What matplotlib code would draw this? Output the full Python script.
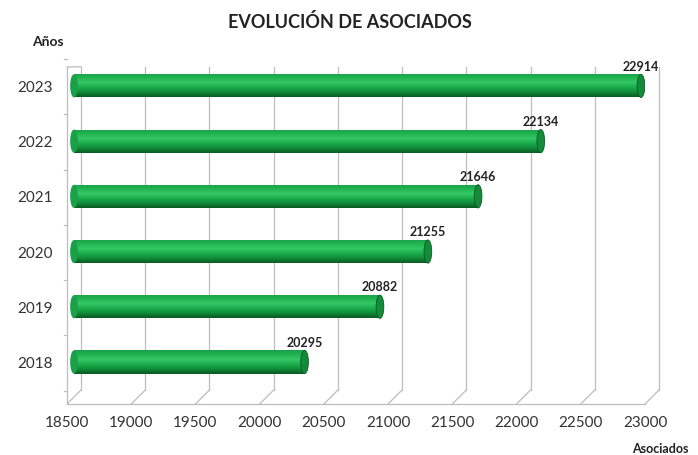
import matplotlib
matplotlib.use("Agg")
import matplotlib.pyplot as plt
import numpy as np
from matplotlib.colors import LinearSegmentedColormap
from matplotlib.patches import Ellipse
import matplotlib.transforms as mtransforms

years = ["2018", "2019", "2020", "2021", "2022", "2023"]
asociados = [20295, 20882, 21255, 21646, 22134, 22914]
xticks = [18500, 19000, 19500, 20000, 20500, 21000, 21500, 22000, 22500, 23000]
title = "EVOLUCIÓN DE ASOCIADOS"

plt.rcParams['font.family'] = ['Lato', 'DejaVu Sans']

fig = plt.figure(figsize=(6.98, 4.56), dpi=100)
ax = fig.add_axes([67/698, 1-405/456, 578/698, (405-68)/456])
x0, x1 = 18500, 23000
ylo, yhi = -0.743, 5.36
ax.set_xlim(x0, x1)
ax.set_ylim(ylo, yhi)
for s in ax.spines.values():
    s.set_visible(False)
ax.set_xticks([])
ax.set_yticks([])

grid_c = "#bdbdbd"
back = mtransforms.offset_copy(ax.transData, fig=fig, x=14, y=14, units='dots')
mid = mtransforms.offset_copy(ax.transData, fig=fig, x=7, y=1, units='dots')
# back wall gridlines
for xv in xticks:
    ax.plot([xv, xv], [ylo, yhi - 0.25], color=grid_c, lw=0.9, transform=back, clip_on=False, zorder=1)
# floor diagonal lines
for xv in xticks:
    p_front = ax.transData.transform((xv, ylo))
    p_back = back.transform((xv, ylo))
    ax.plot([p_front[0], p_back[0]], [p_front[1], p_back[1]], color=grid_c, lw=0.9,
            transform=None, clip_on=False, zorder=1)
ax.plot([x0, x1], [ylo, ylo], color=grid_c, lw=0.9, clip_on=False, zorder=1)
ax.plot([x0, x0], [ylo, yhi], color=grid_c, lw=0.9, clip_on=False, zorder=1)
pt = ax.transData.transform((x0, yhi))
pb = back.transform((x0, yhi - 0.25))
ax.plot([pt[0], pb[0]], [pt[1], pb[1]], color=grid_c, lw=0.9, transform=None, clip_on=False, zorder=1)
for k in range(len(years) + 1):
    yv = k - 0.5
    ax.plot([x0 - 25, x0], [yv, yv], color=grid_c, lw=0.9, clip_on=False, zorder=1)

cmap = LinearSegmentedColormap.from_list("cyl", ["#0a5a22", "#118a3a", "#1bab4b", "#34c866", "#22b552", "#1aa048"])
h = 0.42
ypos = np.arange(len(years))
bars = ax.barh(ypos, [v - x0 for v in asociados], left=x0, height=h, color="#1fa64a",
               edgecolor="none", zorder=3)
grad = np.linspace(0, 1, 100).reshape(-1, 1)
for b, v, y in zip(bars, asociados, ypos):
    b.set_transform(mid)
    b.set_clip_on(False)
    im = ax.imshow(grad, cmap=cmap, aspect='auto', origin='lower',
                   extent=(x0, v, y - h/2, y + h/2), zorder=4)
    im.set_transform(mid)
    im.set_clip_path(b)
    cap = Ellipse((v, y), width=60, height=h, facecolor="#148a3b", edgecolor="#0a5a22", lw=0.6,
                  zorder=5, transform=mid)
    ax.add_patch(cap)
    left_cap = Ellipse((x0, y), width=60, height=h, facecolor="#1aa048", edgecolor="none", zorder=4,
                       transform=mid)
    ax.add_patch(left_cap)
    ax.text(v, y + h/2 + 0.05, str(v), ha='center', va='bottom', fontsize=9,
            fontweight='bold', color='#222222', zorder=6, transform=mid)

ax.set_xlim(x0, x1)
ax.set_ylim(ylo, yhi)

for xv in xticks:
    ax.text(xv, ylo - 0.33, str(xv), ha='center', va='center', fontsize=11, color='#333333')
for y, lab in zip(ypos, years):
    ax.text(x0 - 250, y, lab, ha='center', va='center', fontsize=11, color='#333333')

fig.text(350/698, 1-22/456, title, ha='center', va='center', fontsize=13, fontweight='bold', color='#222222')
fig.text(48/698, 1-42/456, "Años", ha='center', va='center', fontsize=10, fontweight='bold', color='#222222')
fig.text(660/698, 1-449/456, "Asociados", ha='center', va='center', fontsize=9, fontweight='bold', color='#222222')

fig.savefig("out.png", dpi=100)
